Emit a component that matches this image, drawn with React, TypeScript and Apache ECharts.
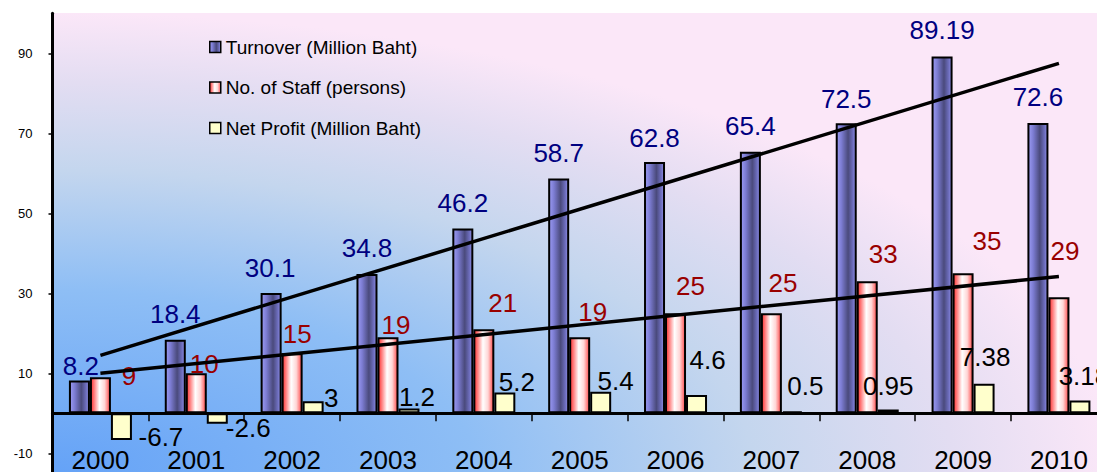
import React, { useEffect, useRef } from 'react';
import * as echarts from 'echarts';

// ---------- data ----------
const years = ['2000', '2001', '2002', '2003', '2004', '2005', '2006', '2007', '2008', '2009', '2010'];
const seriesNames = ['Turnover (Million Baht)', 'No. of Staff (persons)', 'Net Profit (Million Baht)'];
const turnover = [8.2, 18.4, 30.1, 34.8, 46.2, 58.7, 62.8, 65.4, 72.5, 89.19, 72.6];
const staff = [9, 10, 15, 19, 21, 19, 25, 25, 33, 35, 29];
const netProfit = [-6.7, -2.6, 3, 1.2, 5.2, 5.4, 4.6, 0.5, 0.95, 7.38, 3.18];
// trend-line end values (at 2000 and at 2010)
const turnoverTrend = [14.5, 87.5];
const staffTrend = [10, 34.2];
// y-axis ticks
const yTicks = [-10, 10, 30, 50, 70, 90];
const yMax = 100;

// ---------- label nudges (pixels) ----------
const turnoverLabelShift = [
  [1.5, -1.5], [0, -12.5], [-1, -12], [0, -13], [0, -12.5], [0, -12.5],
  [0, -11.5], [0, -12.5], [0, -11.5], [0, -13.5], [0, -12.5],
];
const staffLabelShift = [
  [28.5, 11.5], [8, 3.5], [5, -6.5], [8, 0.5], [19, -13.5], [13, -12.5],
  [15, -14.5], [11.5, -17.5], [16, -14.5], [24, -19.5], [6, -33.5],
];
const profitLabelShift = [
  [39.5, -16.5], [31, -9], [18, 9.5], [8, 1.5], [12, 2.5], [15, 2.5],
  [11, -21.5], [13, -12.5], [0, -10.5], [1, -13.5], [4, -11.5],
];

const FONT = "'Liberation Sans', Arial, sans-serif";

function withLabels(values: number[], shifts: number[][]) {
  return values.map((v, i) => ({
    value: v,
    label: { position: v < 0 ? 'bottom' : 'top', offset: shifts[i] },
  }));
}

export default function App() {
  const ref = useRef<HTMLDivElement>(null);

  useEffect(() => {
    if (!ref.current) return;
    const chart = echarts.init(ref.current, undefined, { renderer: 'svg' });

    const blueFill = new echarts.graphic.LinearGradient(0, 0, 1, 0, [
      { offset: 0, color: '#9c9cf4' },
      { offset: 0.25, color: '#7c7cd2' },
      { offset: 0.6, color: '#4a4a7c' },
      { offset: 0.85, color: '#6e6ebe' },
      { offset: 1, color: '#9292ea' },
    ]);
    const redFill = new echarts.graphic.LinearGradient(0, 0, 1, 0, [
      { offset: 0, color: '#ff3030' },
      { offset: 0.2, color: '#ff8a8a' },
      { offset: 0.45, color: '#ffffff' },
      { offset: 0.72, color: '#ffd6d6' },
      { offset: 1, color: '#ff4c4c' },
    ]);
    const yellowFill = '#ffffcc';

    const bgFill = new echarts.graphic.RadialGradient(0, 1, 1, [
      { offset: 0, color: '#64a2f7' },
      { offset: 0.4, color: '#8ebef5' },
      { offset: 0.66, color: '#c4d6ee' },
      { offset: 0.85, color: '#e3ddf2' },
      { offset: 1, color: '#fbe7f8' },
    ]);

    const barLabel = (color: string) => ({
      show: true,
      distance: 0,
      color,
      fontSize: 26,
      lineHeight: 26,
      fontFamily: FONT,
    });

    const barBase = {
      type: 'bar',
      barWidth: 21,
      barGap: '0%',
      emphasis: { disabled: true },
    };

    const option: any = {
      animation: false,
      graphic: [
        {
          type: 'rect',
          z: -10,
          silent: true,
          shape: { x: 54, y: 13, width: 1060, height: 462 },
          style: { fill: bgFill },
        },
        {
          type: 'line',
          silent: true,
          shape: { x1: 52.5, y1: 450, x2: 52.5, y2: 472 },
          style: { stroke: '#000', lineWidth: 3 },
        },
      ],
      grid: {
        left: 52.5,
        right: 3.15,
        top: 13.3,
        bottom: 18.7,
        containLabel: false,
        outerBoundsMode: 'none',
      },
      legend: {
        data: seriesNames,
        orient: 'vertical',
        left: 204,
        top: 32,
        itemWidth: 11,
        itemHeight: 11,
        itemGap: 20.5,
        icon: 'rect',
        selectedMode: false,
        itemStyle: { borderColor: '#000', borderWidth: 1.5 },
        textStyle: { fontSize: 19, lineHeight: 20, color: '#000', fontFamily: FONT },
      },
      xAxis: {
        type: 'category',
        data: years,
        axisLine: { show: true, onZero: true, lineStyle: { color: '#000', width: 3 } },
        axisTick: { show: true, length: 8, lineStyle: { color: '#000', width: 1.5 } },
        axisLabel: {
          interval: 0,
          fontSize: 26,
          lineHeight: 26,
          color: '#000',
          margin: -6,
          fontFamily: FONT,
        },
        splitLine: { show: false },
      },
      yAxis: {
        type: 'value',
        min: yTicks[0],
        max: yMax,
        interval: yTicks[1] - yTicks[0],
        axisLine: { show: true, lineStyle: { color: '#000', width: 3 } },
        axisTick: { show: true, length: 4, lineStyle: { color: '#000', width: 1.5 } },
        splitLine: { show: false },
        axisLabel: {
          showMaxLabel: false,
          fontSize: 13,
          color: '#000',
          margin: 20,
          fontFamily: FONT,
          formatter: (v: number) => (yTicks.indexOf(v) >= 0 ? String(v) : ''),
        },
      },
      series: [
        {
          ...barBase,
          name: seriesNames[0],
          data: withLabels(turnover, turnoverLabelShift),
          itemStyle: { color: blueFill, borderColor: '#000', borderWidth: 2 },
          label: barLabel('#000080'),
        },
        {
          ...barBase,
          name: seriesNames[1],
          data: withLabels(staff, staffLabelShift),
          itemStyle: { color: redFill, borderColor: '#000', borderWidth: 2 },
          label: barLabel('#990000'),
        },
        {
          ...barBase,
          name: seriesNames[2],
          data: withLabels(netProfit, profitLabelShift),
          itemStyle: { color: yellowFill, borderColor: '#000', borderWidth: 2 },
          label: barLabel('#000000'),
        },
        {
          type: 'line',
          name: 'Turnover trend',
          data: [[0, turnoverTrend[0]], [years.length - 1, turnoverTrend[1]]],
          symbol: 'none',
          silent: true,
          z: 5,
          lineStyle: { color: '#000', width: 3.5 },
          emphasis: { disabled: true },
        },
        {
          type: 'line',
          name: 'Staff trend',
          data: [[0, staffTrend[0]], [years.length - 1, staffTrend[1]]],
          symbol: 'none',
          silent: true,
          z: 5,
          lineStyle: { color: '#000', width: 3.5 },
          emphasis: { disabled: true },
        },
      ],
    };

    chart.setOption(option);
    return () => chart.dispose();
  }, []);

  return (
    <div
      style={{
        position: 'fixed',
        left: 0,
        top: 0,
        width: 1097,
        height: 472,
        overflow: 'hidden',
        background: '#fff',
      }}
    >
      <div ref={ref} style={{ width: 1110, height: 472 }} />
    </div>
  );
}
